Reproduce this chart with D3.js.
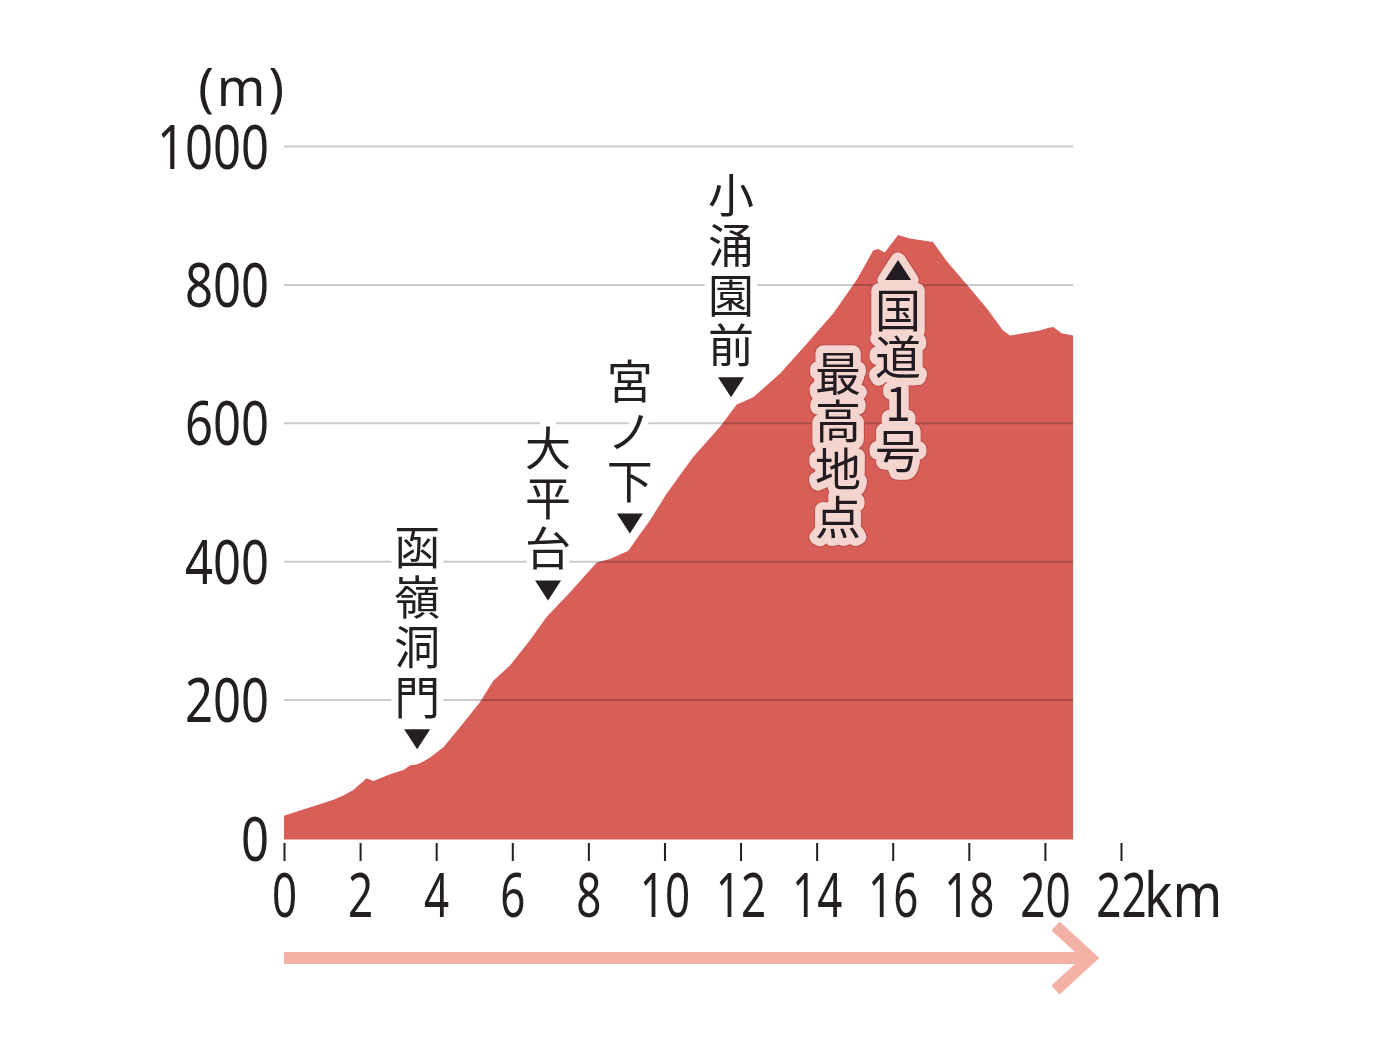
<!DOCTYPE html>
<html>
<head>
<meta charset="utf-8">
<script src="https://cdn.jsdelivr.net/npm/d3@7"></script>
<style>
  body { margin: 0; background: #fff; }
  svg { display: block; }
  .vtext { writing-mode: vertical-rl; text-orientation: upright; }
</style>
</head>
<body>
<div id="chart"></div>
<script>
// elevation profile
const distKm = [0, 0.4, 0.86, 1.3, 1.56, 1.82, 2.17, 2.35, 2.79, 3.14, 3.32, 3.49, 3.65, 3.84,
    4.19, 4.63, 5.15, 5.5, 5.94, 6.47, 6.9, 7.52, 8.22, 8.57, 9.05, 9.36, 9.6, 10.05, 10.75,
    11.46, 11.9, 12.1, 12.34, 13.04, 13.74, 14.44, 15.05, 15.49, 15.62, 15.79, 16.14, 16.45,
    17.06, 17.41, 17.94, 18.46, 18.9, 19.08, 19.43, 19.87, 20.1, 20.22, 20.44, 20.74];
const elevM = [33, 40, 48, 56, 62, 70, 87, 83, 93, 99, 106, 107, 111, 117,
    132, 161, 197, 228, 250, 287, 320, 356, 399, 404, 416, 440, 458, 498, 551,
    595, 627, 632, 638, 672, 715, 759, 807, 850, 852, 847, 872, 867,
    862, 835, 801, 767, 734, 727, 730, 734, 738, 739, 730, 727];

const xTickValues = [0, 2, 4, 6, 8, 10, 12, 14, 16, 18, 20, 22];
const yTickValues = [0, 200, 400, 600, 800, 1000];

const stopNames = ['函嶺洞門', '大平台', '宮ノ下', '小涌園前'];
const stopKm = [3.5, 6.94, 9.09, 11.75];

const summitKm = 16.14;
const summitName = '国道1号';
const summitNote = '最高地点';

const ink = '#231f20';
const jpFont = '"Noto Sans CJK JP", "Noto Sans CJK SC", sans-serif';
const numFont = '"Noto Sans", "Open Sans", sans-serif';
const jpSize = 46;

const svg = d3.select('#chart').append('svg')
    .attr('width', 1386)
    .attr('height', 1053);

// thin dark outline round the pink halo
const outline = svg.append('defs').append('filter')
    .attr('id', 'outline')
    .attr('x', '-20%').attr('y', '-10%')
    .attr('width', '140%').attr('height', '120%');
outline.append('feMorphology')
    .attr('in', 'SourceAlpha').attr('operator', 'dilate').attr('radius', 1.2).attr('result', 'grow');
outline.append('feFlood').attr('flood-color', '#bf4f49').attr('result', 'col');
outline.append('feComposite').attr('in', 'col').attr('in2', 'grow').attr('operator', 'in').attr('result', 'edge');
const om = outline.append('feMerge');
om.append('feMergeNode').attr('in', 'edge');
om.append('feMergeNode').attr('in', 'SourceGraphic');

const x = d3.scaleLinear().domain([0, 22]).range([284, 1121]);
const y = d3.scaleLinear().domain([0, 1000]).range([838.5, 146.5]);
const elevAt = d3.scaleLinear().domain(distKm).range(elevM);
const profile = distKm.map((d, i) => ({ km: d, m: elevM[i] }));
const lastKm = distKm[distKm.length - 1];

// area
const area = d3.area()
    .x(d => x(d.km))
    .y0(y(0) + 1)
    .y1(d => y(d.m));

svg.append('path')
    .datum(profile)
    .attr('d', area)
    .attr('fill', '#d75f58');

// gridlines (multiplied so they show faintly through the area)
svg.append('g')
    .selectAll('line')
    .data(yTickValues.filter(v => v > 0))
    .join('line')
    .attr('x1', x(0))
    .attr('x2', x(lastKm))
    .attr('y1', d => y(d))
    .attr('y2', d => y(d))
    .attr('stroke', '#cbcbcb')
    .attr('stroke-width', 2)
    .style('mix-blend-mode', 'multiply');

// y labels
svg.append('g')
    .selectAll('text')
    .data(yTickValues)
    .join('text')
    .attr('transform', d => `translate(269,${y(d) + 22}) scale(0.79,1)`)
    .attr('text-anchor', 'end')
    .attr('font-family', numFont)
    .attr('font-size', 62)
    .attr('fill', ink)
    .text(d => d);

svg.append('text')
    .attr('x', 287)
    .attr('y', 106)
    .attr('text-anchor', 'end')
    .attr('font-family', numFont)
    .attr('font-size', 52)
    .attr('letter-spacing', 3)
    .attr('fill', ink)
    .text('(m)');

// x axis
const xAxis = svg.append('g')
    .attr('transform', `translate(0,843)`)
    .call(d3.axisBottom(x).tickValues(xTickValues).tickSize(18).tickSizeOuter(0));

xAxis.select('.domain').remove();
xAxis.selectAll('.tick line')
    .attr('stroke', ink)
    .attr('stroke-width', 2);
xAxis.selectAll('.tick text')
    .attr('y', null)
    .attr('dy', null)
    .attr('transform', 'translate(0,74) scale(0.71,1)')
    .attr('font-family', numFont)
    .attr('font-size', 62)
    .attr('fill', ink);

svg.append('text')
    .attr('transform', `translate(${x(22) + 23},917) scale(0.86,1)`)
    .attr('font-family', numFont)
    .attr('font-size', 62)
    .attr('fill', ink)
    .text('km');

// direction arrow
const tipX = x(21.25);
const arrow = svg.append('g')
    .attr('fill', 'none')
    .attr('stroke', '#f4b2a6')
    .attr('stroke-width', 12);
arrow.append('line')
    .attr('x1', x(0)).attr('x2', tipX - 4)
    .attr('y1', 958).attr('y2', 958);
arrow.append('path')
    .attr('d', `M${tipX - 37},926 L${tipX - 2},958 L${tipX - 37},990`)
    .attr('stroke-linejoin', 'miter');

// vertical label: one text per column, top given as centre of first glyph
function columnText(g, str, cx, firstCy, pitch, halo) {
    return g.append('text')
        .attr('class', 'vtext')
        .attr('x', cx)
        .attr('y', firstCy - jpSize / 2)
        .attr('font-family', jpFont)
        .attr('font-size', jpSize)
        .attr('letter-spacing', pitch - jpSize)
        .attr('fill', ink)
        .attr('stroke', halo.color)
        .attr('stroke-width', halo.width)
        .attr('stroke-linejoin', 'round')
        .style('paint-order', 'stroke')
        .text(str);
}

// stop markers (vertical labels with a triangle pointing down at the road)
const stops = svg.append('g');
stopNames.forEach((name, k) => {
    const cx = x(stopKm[k]);
    const ty = y(elevAt(stopKm[k])) - 25;
    const n = Array.from(name).length;
    const pitch = 50;
    const g = stops.append('g');
    columnText(g, name, cx, ty - 43 - (n - 1) * pitch, pitch, { color: '#fff', width: 14 });
    g.append('path')
        .attr('transform', `translate(${cx},${ty})`)
        .attr('d', 'M-13,-10 L13,-10 L0,10 Z')
        .attr('fill', ink);
});

// summit label with pink halo
const sx = x(summitKm);
const triY = y(elevAt(summitKm)) + 35;
const pinkHalo = { color: '#f5d5d0', width: 15 };

const summit = svg.append('g').attr('filter', 'url(#outline)');
summit.append('path')
    .attr('transform', `translate(${sx},${triY})`)
    .attr('d', 'M-13,10 L13,10 L0,-10 Z')
    .attr('fill', ink)
    .attr('stroke', pinkHalo.color)
    .attr('stroke-width', pinkHalo.width)
    .attr('stroke-linejoin', 'round')
    .style('paint-order', 'stroke');
columnText(summit, summitName, sx, triY + 39, 47, pinkHalo);
columnText(summit, summitNote, sx - 60, triY + 102, 48, pinkHalo);
</script>
</body>
</html>
